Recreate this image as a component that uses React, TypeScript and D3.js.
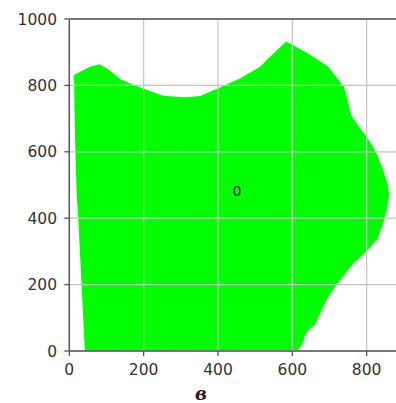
import React from "react";
import * as d3 from "d3";

const polyX = [12.6, 33, 56, 82, 110, 137, 170, 199, 230, 253, 311, 352, 405, 459, 513, 549, 583, 598, 648, 697, 728, 739, 749, 758, 776, 803, 825, 843, 857, 861, 854, 843, 830, 807, 780, 764, 719, 697, 679, 661, 648, 634, 630, 616, 42, 33, 24, 20, 15];
const polyY = [831, 843, 856, 864, 844, 819, 803, 791, 778, 769, 764, 768, 794, 821, 856, 896, 932, 924, 892, 856, 811, 796, 756, 711, 681, 641, 600, 550, 500, 470, 425, 380, 339, 309, 279, 264, 199, 164, 123, 78, 68, 48, 28, 3, 0, 199, 400, 465, 656];
const xTicks = [0, 200, 400, 600, 800];
const yTicks = [0, 200, 400, 600, 800, 1000];
const regionLabel = "0";
const labelPos = [451, 481];
const caption = "в";

export default function App() {
  const W = 396, H = 403;
  const x = d3.scaleLinear().domain([0, 880]).range([69.3, 69.3 + 880 * 0.3717]);
  const y = d3.scaleLinear().domain([0, 1000]).range([351, 19]);
  const pts: [number, number][] = polyX.map((v, i) => [x(v), y(polyY[i])]);
  const line = d3.line().curve(d3.curveLinearClosed);
  const d = line(pts) || "";
  const [x0, x1] = x.range();
  const [y0, y1] = y.range();
  const font = "DejaVu Sans, sans-serif";
  return (
    <svg width={W} height={H} style={{ position: "absolute", left: 0, top: 0 }}>
      <rect width={W} height={H} fill="#fff" />
      <defs>
        <clipPath id="ax">
          <rect x={x0} y={y1} width={x1 - x0} height={y0 - y1} />
        </clipPath>
      </defs>
      <path d={d} fill="#00ff00" clipPath="url(#ax)" />
      {xTicks.map((t) => (
        <line key={"gx" + t} x1={x(t)} x2={x(t)} y1={y0} y2={y1} stroke="#c4c4c4" strokeWidth={1.2} />
      ))}
      {yTicks.map((t) => (
        <line key={"gy" + t} x1={x0} x2={x1} y1={y(t)} y2={y(t)} stroke="#c4c4c4" strokeWidth={1.2} />
      ))}
      <line x1={x0} x2={x0} y1={y0} y2={y1} stroke="#555" strokeWidth={1.4} />
      <line x1={x0} x2={x1} y1={y0} y2={y0} stroke="#555" strokeWidth={1.4} />
      <line x1={x0} x2={x1} y1={y1} y2={y1} stroke="#555" strokeWidth={1.4} />
      {xTicks.map((t) => (
        <g key={"tx" + t}>
          <line x1={x(t)} x2={x(t)} y1={y0} y2={y0 + 5} stroke="#555" strokeWidth={1.3} />
          <text x={x(t)} y={375} textAnchor="middle" fontFamily={font} fontSize={15.5} fill="#333">{t}</text>
        </g>
      ))}
      {yTicks.map((t) => (
        <g key={"ty" + t}>
          <line x1={x0 - 5} x2={x0} y1={y(t)} y2={y(t)} stroke="#555" strokeWidth={1.3} />
          <text x={57} y={y(t)} dy="0.36em" textAnchor="end" fontFamily={font} fontSize={15.5} fill="#333">{t}</text>
        </g>
      ))}
      <text x={x(labelPos[0])} y={y(labelPos[1])} dy="0.36em" textAnchor="middle" fontFamily={font} fontSize={14} fill="#111">{regionLabel}</text>
      <text x={201} y={400} textAnchor="middle" fontFamily="DejaVu Serif, serif" fontStyle="italic" fontWeight="bold" fontSize={18} fill="#222">{caption}</text>
    </svg>
  );
}
